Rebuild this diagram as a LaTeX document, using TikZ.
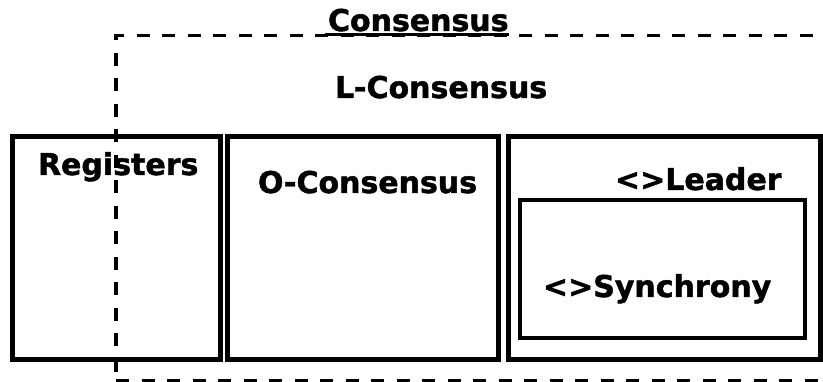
\documentclass[tikz,border=0pt]{standalone}
\usepackage{fontspec}
\setmainfont{DejaVu Sans}[BoldFeatures={FakeBold=1.6}]
\begin{document}
\begin{tikzpicture}[x=1pt,y=1pt,
  lbl/.style={font=\bfseries\fontsize{30}{36}\selectfont, inner sep=0pt, outer sep=0pt, anchor=base west},
  comp/.style={draw=black, line width=5pt, inner sep=0pt, outer sep=0pt, anchor=south west},
  inner/.style={comp, line width=4pt},
  region/.style={draw=black, line width=3.5pt, dash pattern=on 13pt off 12.5pt, inner sep=0pt, outer sep=0pt, anchor=south west}]
  \useasboundingbox (0,0) rectangle (823,382);
  \clip (0,0) rectangle (823,382);

  % component boxes
  \node[comp, minimum width=208pt, minimum height=223pt] (reg) at (12,22) {};
  \node[comp, minimum width=270.5pt, minimum height=223pt] (ocons) at (227.5,22) {};
  \node[comp, minimum width=312pt, minimum height=223pt] (leader) at (508.5,22) {};
  \node[inner, minimum width=285.5pt, minimum height=138pt] (sync) at (519.5,43.5) {};

  % labels
  \node[lbl] (tcons) at (328,351) {Consensus};
  \draw[line width=2.5pt] ([xshift=-3pt,yshift=-3.5pt]tcons.base west) -- ([yshift=-3.5pt]tcons.base east);
  \node[lbl] (tlcons) at (335,284) {L-Consensus};
  \node[lbl] (treg) at (38,207) {Registers};
  \node[lbl] (tocons) at (258,189) {O-Consensus};
  \node[lbl] (tleader) at (615,192) {<>Leader};
  \node[lbl] (tsync) at (543,85) {<>Synchrony};

  % dashed consensus region, drawn over the boxes
  \node[region, minimum width=724pt, minimum height=345pt] (consregion) at (116,1.5) {};
\end{tikzpicture}
\end{document}
